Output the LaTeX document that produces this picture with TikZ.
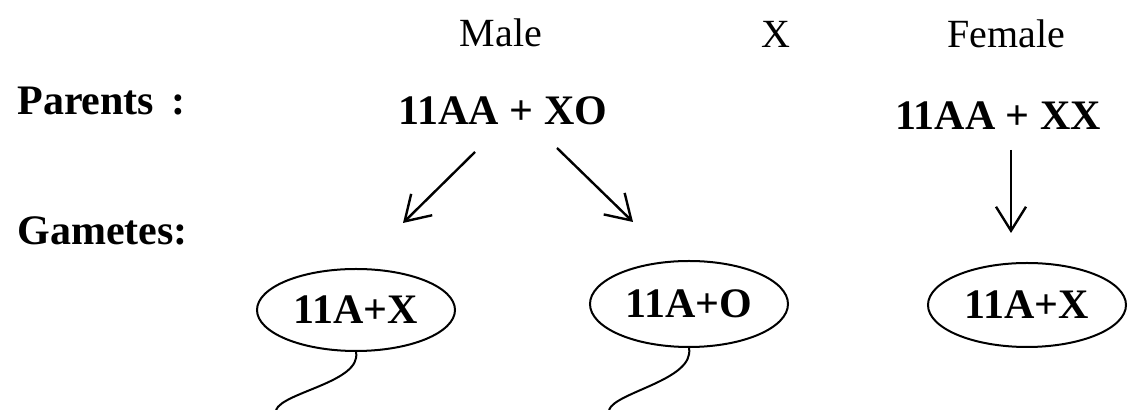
\documentclass[tikz,border=0pt]{standalone}
\usepackage{fontspec}
\setmainfont{Liberation Serif}
\usetikzlibrary{shapes.geometric,arrows.meta}

\begin{document}
\begin{tikzpicture}[x=0.5pt,y=-0.5pt,
    lbl/.style={font=\fontsize{21}{25}\selectfont\bfseries, anchor=base west, inner sep=0pt},
    sex/.style={font=\fontsize{20}{24}\selectfont, anchor=base, inner sep=0pt},
    geno/.style={font=\fontsize{21}{25}\selectfont\bfseries, anchor=base, inner sep=0pt},
    gamete/.style={draw, ellipse, line width=1pt, minimum width=99pt, minimum height=41pt,
                   inner sep=0pt, font=\fontsize{21}{25}\selectfont\bfseries},
    arr/.style={-{Straight Barb[length=12pt,width=15pt]}, line width=1.2pt},
    tail/.style={line width=1pt}]
            \useasboundingbox (0,0) rectangle (1132,410);
            % top row
            \node[sex] (male) at (501,47) {Male};
            \node[sex] (cross) at (776,48) {X};
            \node[sex] (female) at (1006,48) {Female};
            % parents
            \node[lbl] (parents) at (17,115) {Parents \,:};
            \node[geno] (pm) at (503,125) {11AA + XO};
            \node[geno] (pf) at (998,130) {11AA + XX};
            % gametes
            \node[lbl] (gametes) at (17,245) {Gametes:};
            \node[gamete] (e1) at (356,310) {11A+X};
            \node[gamete, minimum height=43pt] (e2) at (689,304) {11A+O};
            \node[gamete, minimum height=42pt] (e3) at (1027,305) {11A+X};
            % arrows
            \coordinate (ml) at (475,152);
            \coordinate (mlend) at (403,223);
            \coordinate (mr) at (557,148);
            \coordinate (mrend) at (633,222);
            \coordinate (fd) at (1011,150);
            \coordinate (fdend) at (1011,233);
            \draw[arr] (ml) -- (mlend);
            \draw[arr] (mr) -- (mrend);
            \draw[arr] (fd) -- (fdend);
            % tails
            \coordinate (t1) at (276,410);
            \coordinate (t2) at (609,410);
            \draw[tail] (e1.south) .. controls (362,382) and (283,392) .. (t1);
            \draw[tail] (e2.south) .. controls (695,380) and (615,392) .. (t2);
        \end{tikzpicture}
\end{document}
